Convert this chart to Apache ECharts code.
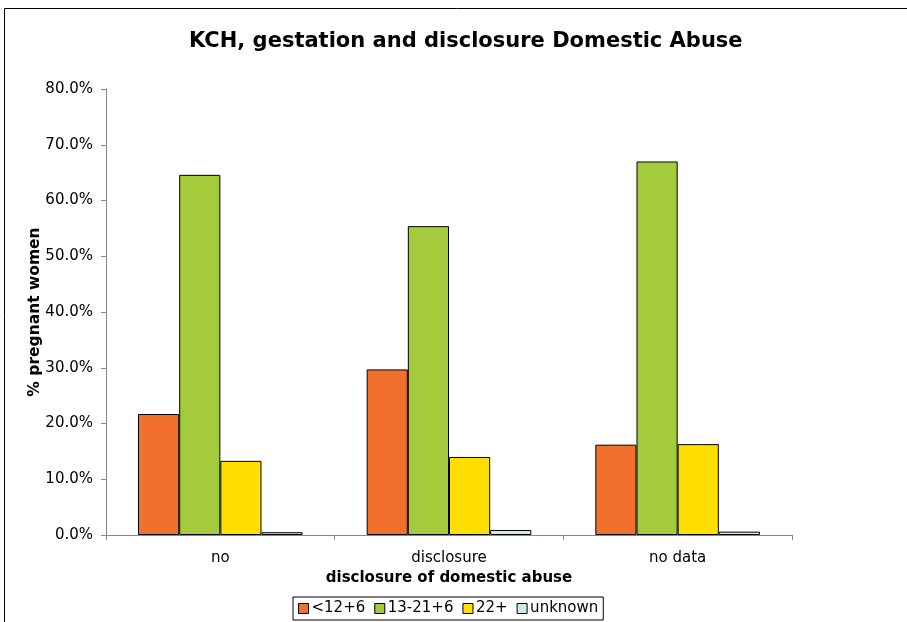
<!DOCTYPE html>
<html>
<head>
<meta charset="utf-8">
<script src="https://cdn.jsdelivr.net/npm/echarts@6/dist/echarts.min.js"></script>
<style>
  html, body { margin: 0; padding: 0; background: #fff; }
  #chart { width: 907px; height: 622px; }
</style>
</head>
<body>
<div id="chart"></div>
<script>
// Disclosure categories on the x axis
const categories = ['no', 'disclosure', 'no data'];
// Gestation groups (series) and their share of pregnant women, in percent
const seriesNames = ['<12+6', '13-21+6', '22+', 'unknown'];
const earlyValues = [21.7, 29.7, 16.2];
const midValues = [64.6, 55.4, 67.0];
const lateValues = [13.3, 14.0, 16.3];
const unknownValues = [0.5, 0.9, 0.6];
// Y axis ticks
const yMin = 0, yMax = 80, yStep = 10;

const colors = ['#F2702E', '#A4CB3B', '#FFDF00', '#CCEAEA'];
const font = 'DejaVu Sans, Verdana, sans-serif';
const valueSets = [earlyValues, midValues, lateValues, unknownValues];

const chart = echarts.init(document.getElementById('chart'), null, { renderer: 'canvas' });

chart.setOption({
  animation: false,
  backgroundColor: '#fff',
  textStyle: { fontFamily: font, color: '#000' },
  title: {
    text: 'KCH, gestation and disclosure Domestic Abuse',
    left: 184,
    top: 26,
    textStyle: { fontFamily: font, fontWeight: 'bold', fontSize: 21, color: '#000' }
  },
  graphic: [{
    type: 'rect',
    shape: { x: 4.5, y: 8.5, width: 920, height: 640 },
    style: { fill: 'none', stroke: '#000', lineWidth: 1 },
    silent: true
  }],
  legend: {
    bottom: 2,
    left: 293,
    itemWidth: 10,
    itemHeight: 10,
    itemGap: 9,
    padding: [4, 5],
    borderColor: '#000',
    borderWidth: 1,
    textStyle: { fontFamily: font, fontSize: 15, color: '#000', padding: [0, 0, 0, -2] },
    data: seriesNames.map(n => ({ name: n, icon: 'rect', itemStyle: { borderColor: '#000', borderWidth: 1 } }))
  },
  grid: { left: 106, right: 115, top: 89, bottom: 87, containLabel: false },
  xAxis: {
    type: 'category',
    data: categories,
    name: 'disclosure of domestic abuse',
    nameLocation: 'middle',
    nameGap: 36,
    nameMoveOverlap: false,
    nameTextStyle: { fontFamily: font, fontWeight: 'bold', fontSize: 15, color: '#000' },
    axisLine: { lineStyle: { color: '#888', width: 1 } },
    axisTick: { show: true, alignWithLabel: false, length: 5, lineStyle: { color: '#888' } },
    axisLabel: { fontFamily: font, fontSize: 15, color: '#000', margin: 16 }
  },
  yAxis: {
    type: 'value',
    min: yMin,
    max: yMax,
    interval: yStep,
    name: '% pregnant women',
    nameLocation: 'middle',
    nameGap: 63,
    nameMoveOverlap: false,
    nameRotate: 90,
    nameTextStyle: { fontFamily: font, fontWeight: 'bold', fontSize: 15.5, color: '#000' },
    axisLine: { show: true, lineStyle: { color: '#888', width: 1 } },
    axisTick: { show: true, length: 5, lineStyle: { color: '#888' } },
    splitLine: { show: false },
    axisLabel: {
      fontFamily: font, fontSize: 15, color: '#000', margin: 13,
      formatter: v => v.toFixed(1) + '%'
    }
  },
  series: seriesNames.map((name, i) => ({
    name,
    type: 'bar',
    data: valueSets[i],
    barGap: '0%',
    barCategoryGap: '28%',
    itemStyle: { color: colors[i], borderColor: '#000', borderWidth: 1 }
  }))
});
</script>
</body>
</html>
